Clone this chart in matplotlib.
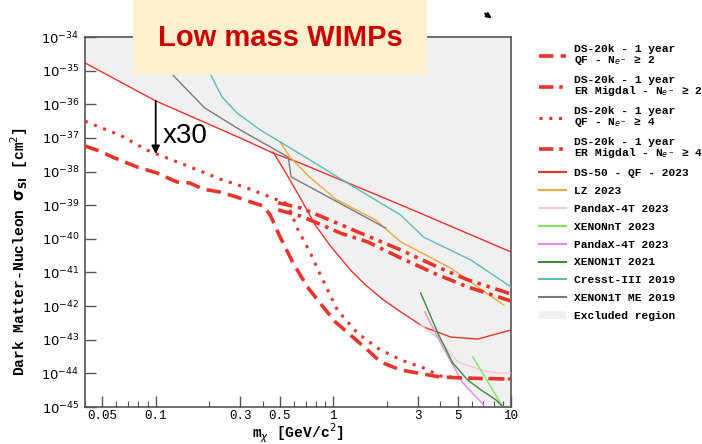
import numpy as np
import matplotlib
matplotlib.use("Agg")
import matplotlib.pyplot as plt
from matplotlib.patches import Rectangle, Patch, FancyArrowPatch
from matplotlib.lines import Line2D

MONO = "Liberation Mono"

# ---- exclusion limits / projections (mass in GeV, cross-section as log10 cm^2) ----
# DS-20k, 1 year, QF, Ne- >= 2
qf2_mass = [0.04, 0.0483, 0.0572, 0.0782, 0.1014, 0.1315, 0.1556, 0.1845, 0.230, 0.287,
            0.353, 0.403, 0.441, 0.502, 0.594, 0.714, 0.878, 1.026, 1.248, 1.557,
            1.843, 2.393, 2.985, 4.02, 5.42, 10.0]
qf2_logsig = [-37.24, -37.39, -37.57, -37.86, -38.04, -38.31, -38.34, -38.52, -38.61, -38.76,
              -38.93, -39.02, -39.29, -39.95, -40.72, -41.43, -42.03, -42.47, -42.86, -43.30,
              -43.66, -43.90, -43.99, -44.11, -44.14, -44.17]

# DS-20k, 1 year, QF, Ne- >= 4
qf4_mass = [0.04, 0.0483, 0.0627, 0.089, 0.1014, 0.1556, 0.230, 0.327, 0.458, 0.536,
            0.571, 0.634, 0.742, 0.845, 1.054, 1.367, 1.773, 2.393, 3.22, 4.02, 5.42, 10.0]
qf4_logsig = [-36.50, -36.68, -36.91, -37.36, -37.48, -37.86, -38.22, -38.49, -38.79, -38.93,
              -39.17, -39.74, -40.42, -41.07, -42.12, -42.80, -43.25, -43.60, -43.84, -44.08,
              -44.14, -44.17]

# DS-20k, 1 year, ER Migdal, Ne- >= 2
er2_mass = [0.489, 0.652, 0.812, 1.096, 1.557, 2.393, 3.87, 5.71, 10.0]
er2_logsig = [-39.14, -39.32, -39.53, -39.83, -40.09, -40.57, -41.07, -41.43, -41.85]

# DS-20k, 1 year, ER Migdal, Ne- >= 4
er4_mass = [0.489, 0.652, 0.925, 1.298, 2.393, 3.87, 5.71, 10.0]
er4_logsig = [-38.93, -39.08, -39.41, -39.74, -40.33, -40.84, -41.22, -41.64]

# DS-50 2023 (Migdal QF branch and standard NR branch)
ds50_mig_mass = [0.04, 0.1, 0.2985, 0.458, 0.652, 2.393, 10.0]
ds50_mig_logsig = [-34.77, -35.90, -37.00, -37.45, -37.75, -38.99, -40.39]
ds50_nr_mass = [0.458, 0.536, 0.652, 0.791, 0.962, 1.248, 1.517, 1.917, 2.393, 3.22,
                4.58, 6.51, 10.0]
ds50_nr_logsig = [-37.42, -38.01, -38.79, -39.59, -40.21, -40.93, -41.37, -41.82, -42.17,
                  -42.62, -42.92, -42.98, -42.71]

lz_mass = [0.502, 0.571, 0.723, 1.03, 1.73, 2.393, 4.58, 9.12]
lz_logsig = [-37.12, -37.57, -38.13, -38.82, -39.44, -40.09, -40.87, -41.97]

pandax1_mass = [3.10, 3.87, 5.02, 6.77, 8.23, 10.0]
pandax1_logsig = [-42.56, -42.95, -43.66, -43.90, -43.99, -43.99]

xenonnt_mass = [6.10, 9.01]
xenonnt_logsig = [-43.51, -45.0]

pandax2_mass = [3.27, 4.13, 5.36, 7.03]
pandax2_logsig = [-42.17, -43.22, -44.29, -44.94]

x1t_mass = [3.10, 3.92, 4.70, 5.71, 6.77, 8.23, 9.01]
x1t_logsig = [-41.61, -42.86, -43.69, -44.20, -44.49, -44.79, -45.0]

cresst_mass = [0.177, 0.207, 0.236, 0.287, 0.387, 0.502, 0.652, 1.25, 2.39, 3.22, 5.94, 10.0]
cresst_logsig = [-34.24, -35.19, -35.78, -36.26, -36.76, -37.12, -37.48, -38.40, -39.29,
                 -39.95, -40.63, -41.43]

x1tme_mass = [0.0925, 0.128, 0.156, 0.189, 0.2985, 0.557, 0.579, 1.97]
x1tme_logsig = [-34.39, -35.19, -35.66, -36.11, -36.76, -37.57, -38.16, -39.68]

xticks = [0.05, 0.1, 0.3, 0.5, 1, 3, 5, 10]
xtick_labels = ["0.05", "0.1", "0.3", "0.5", "1", "3", "5", "10"]

RED = "#e8342a"


def sig(v):
    return 10.0 ** np.asarray(v)


fig = plt.figure(figsize=(7.02, 4.44), dpi=100)
ax = fig.add_axes([85 / 702, 37 / 444, 426 / 702, 370 / 444])
ax.set_xscale("log")
ax.set_yscale("log")
ax.set_xlim(0.04, 10)
ax.set_ylim(1e-45, 1e-34)

# excluded region: outer envelope of the existing limits
env_m = ds50_mig_mass[:4] + ds50_nr_mass[1:9] + pandax1_mass[:2] + pandax2_mass[1:] + [10.0]
env_s = ds50_mig_logsig[:4] + ds50_nr_logsig[1:9] + pandax1_logsig[:2] + pandax2_logsig[1:] + [-45.0]
poly_m = env_m + [10.0, 0.04]
poly_s = env_s + [-34.0, -34.0]
ax.fill(poly_m, sig(poly_s), color="#f0f0f0", lw=0, zorder=0)

thin = 1.0
ax.plot(ds50_mig_mass, sig(ds50_mig_logsig), color=RED, lw=thin, zorder=3)
ax.plot(ds50_nr_mass, sig(ds50_nr_logsig), color=RED, lw=thin, zorder=3)
ax.plot(lz_mass, sig(lz_logsig), color="#f2a93b", lw=thin, zorder=3)
ax.plot(pandax1_mass, sig(pandax1_logsig), color="#f7c6cf", lw=thin, zorder=3)
ax.plot(xenonnt_mass, sig(xenonnt_logsig), color="#7fe65a", lw=thin, zorder=3)
ax.plot(pandax2_mass, sig(pandax2_logsig), color="#dd8ee0", lw=thin, zorder=3)
ax.plot(x1t_mass, sig(x1t_logsig), color="#3f8a3a", lw=thin, zorder=3)
ax.plot(cresst_mass, sig(cresst_logsig), color="#5bbdb6", lw=thin, zorder=3)
ax.plot(x1tme_mass, sig(x1tme_logsig), color="#7a7a7a", lw=thin, zorder=3)

thick = 2.6
ls_qf2 = (0, (4, 2))
ls_er2 = (0, (4, 1.6, 1, 1.6))
ls_qf4 = (0, (1, 2.2))
ls_er4 = (0, (4, 1.6, 1, 1.6, 1, 1.6))
ax.plot(qf2_mass, sig(qf2_logsig), color=RED, lw=thick, ls=ls_qf2, zorder=4)
ax.plot(qf4_mass, sig(qf4_logsig), color=RED, lw=2.2, ls=ls_qf4, zorder=4)
ax.plot(er2_mass, sig(er2_logsig), color=RED, lw=thick, ls=ls_er2, zorder=4)
ax.plot(er4_mass, sig(er4_logsig), color=RED, lw=thick, ls=ls_er4, zorder=4)

# x30 improvement arrow at 0.1 GeV
ax.annotate("", xy=(0.1, sig(qf4_logsig[4])), xytext=(0.1, sig(ds50_mig_logsig[1])),
            arrowprops=dict(arrowstyle="-|>", color="black", lw=1.3,
                            mutation_scale=12, shrinkA=0, shrinkB=0), zorder=5)
ax.text(0.1095, sig(-36.94), "x30", fontsize=20, family="Liberation Sans",
        va="center", ha="left", zorder=5)

# axes styling
for s in ax.spines.values():
    s.set_color("#555555")
    s.set_linewidth(1.2)
ax.tick_params(which="major", direction="in", length=8, width=1, color="#555555",
               top=False, right=False)
ax.tick_params(which="minor", direction="in", length=4, width=0.8, color="#555555",
               top=False, right=False)
ax.tick_params(axis="y", which="minor", left=False)
ax.set_xticks(xticks)
ax.set_xticklabels(xtick_labels, family=MONO, fontsize=9)
ax.set_yticks([10.0 ** e for e in range(-45, -33)])
ax.tick_params(axis="y", labelsize=9.5, pad=4)
ax.tick_params(axis="x", pad=2)

ax.set_xlabel(r"m$_\chi$ [GeV/c$^2$]", family=MONO, fontsize=10.5, fontweight="bold",
              labelpad=0)
ax.set_ylabel(r"Dark Matter-Nucleon $\mathbf{\sigma_{SI}}$ [cm$^2$]", family=MONO,
              fontsize=10.5, fontweight="bold")
ax.yaxis.set_label_coords(-0.128, 0.42)

# legend
handles = [
    Line2D([], [], color=RED, lw=thick, ls=ls_qf2),
    Line2D([], [], color=RED, lw=thick, ls=ls_er2),
    Line2D([], [], color=RED, lw=2.2, ls=ls_qf4),
    Line2D([], [], color=RED, lw=thick, ls=ls_er4),
    Line2D([], [], color=RED, lw=1.5),
    Line2D([], [], color="#f2a93b", lw=1.5),
    Line2D([], [], color="#f7c6cf", lw=1.5),
    Line2D([], [], color="#7fe65a", lw=1.5),
    Line2D([], [], color="#dd8ee0", lw=1.5),
    Line2D([], [], color="#3f8a3a", lw=1.5),
    Line2D([], [], color="#5bbdb6", lw=1.5),
    Line2D([], [], color="#7a7a7a", lw=1.5),
    Patch(facecolor="#f0f0f0", edgecolor="none"),
]
labels = [
    "DS-20k - 1 year\nQF - N$_{e^-}$ ≥ 2",
    "DS-20k - 1 year\nER Migdal - N$_{e^-}$ ≥ 2",
    "DS-20k - 1 year\nQF - N$_{e^-}$ ≥ 4",
    "DS-20k - 1 year\nER Migdal - N$_{e^-}$ ≥ 4",
    "DS-50 - QF - 2023",
    "LZ 2023",
    "PandaX-4T 2023",
    "XENONnT 2023",
    "PandaX-4T 2023",
    "XENON1T 2021",
    "Cresst-III 2019",
    "XENON1T ME 2019",
    "Excluded region",
]
leg = fig.legend(handles, labels, loc="upper left", bbox_to_anchor=(534 / 702, 1 - 40 / 444),
                 frameon=False, prop={"family": MONO, "size": 8.1, "weight": "bold"},
                 handlelength=2.4, labelspacing=0.7, handletextpad=0.8, borderaxespad=0)
for t in leg.get_texts():
    t.set_linespacing(0.95)

# title box
fig.add_artist(Rectangle((133 / 702, 1 - 75 / 444), 294 / 702, 75 / 444,
                         transform=fig.transFigure, facecolor="#fdf0cc",
                         edgecolor="none", zorder=10))
fig.text(280 / 702, 1 - 38 / 444, "Low mass WIMPs", family="Liberation Sans",
         fontweight="bold", fontsize=21, color="#cc0000", ha="center", va="center",
         zorder=11)

# small pointer in the top right
fig.add_artist(FancyArrowPatch(
    (483 / 702, 1 - 12 / 444), (494 / 702, 1 - 20 / 444), transform=fig.transFigure,
    arrowstyle="-|>", mutation_scale=7, lw=1.5, color="black"))

fig.savefig("out.png", dpi=100)
